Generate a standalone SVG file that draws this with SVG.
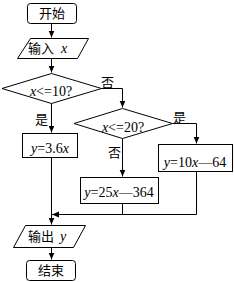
<svg xmlns="http://www.w3.org/2000/svg" width="234" height="282" viewBox="0 0 234 282">
<defs>
<style>
.s{fill:#fff;stroke:#000;stroke-width:1}
.c{fill:none;stroke:#000;stroke-width:1}
.t{font-family:"Noto Sans CJK SC","Liberation Serif",serif;font-size:13px;fill:#000}
.m{font-family:"Liberation Serif",serif;font-size:14px;fill:#000}
.i{font-style:italic}
</style>
<marker id="a" markerWidth="8" markerHeight="8" refX="7" refY="4" orient="auto" markerUnits="userSpaceOnUse">
<path d="M0,1 L7,4 L0,7 Z" fill="#000"/>
</marker>
</defs>
<rect width="234" height="282" fill="#fff"/>
<g id="connectors">
<path class="c" d="M51.5,23.5 V37.5" marker-end="url(#a)"/>
<path class="c" d="M51.5,58.5 V72.5" marker-end="url(#a)"/>
<path class="c" d="M51.5,103.5 V132.5" marker-end="url(#a)"/>
<path class="c" d="M101.5,88.5 H122.5 V107.5" marker-end="url(#a)"/>
<path class="c" d="M122.5,138.5 V176.5" marker-end="url(#a)"/>
<path class="c" d="M172.5,123.5 H196.5 V143.5" marker-end="url(#a)"/>
<path class="c" d="M51.5,157.5 V224.5" marker-end="url(#a)"/>
<path class="c" d="M122.5,203.5 V214.5"/>
<path class="c" d="M196.5,171.5 V214.5 H52" marker-end="url(#a)"/>
<path class="c" d="M51.5,247.5 V259.5" marker-end="url(#a)"/>
</g>
<g id="start">
<rect class="s" x="27.5" y="3.5" width="49" height="20" rx="3"/>
<text class="t" x="52" y="18" text-anchor="middle">开始</text>
</g>
<g id="input">
<path class="s" d="M30.5,38.5 H88.5 L77.5,58.5 H17.5 Z"/>
<text class="t" x="28" y="53">输入</text>
<text class="m i" x="61" y="53">x</text>
</g>
<g id="cond1">
<path class="s" d="M51.5,73.5 L101.5,88.5 L51.5,103.5 L2,88.5 Z"/>
<text class="m" x="51" y="96" text-anchor="middle"><tspan class="i">x</tspan>&lt;=10?</text>
<text class="t" x="101" y="87">否</text>
<text class="t" x="35" y="124">是</text>
</g>
<g id="cond2">
<path class="s" d="M122.5,108.5 L172.5,123.5 L122.5,138.5 L74,123.5 Z"/>
<text class="m" x="123" y="132" text-anchor="middle"><tspan class="i">x</tspan>&lt;=20?</text>
<text class="t" x="173" y="122">是</text>
<text class="t" x="108" y="157">否</text>
</g>
<g id="box1">
<rect class="s" x="22.5" y="133.5" width="55" height="24"/>
<text class="m" x="50" y="153" text-anchor="middle"><tspan class="i">y</tspan>=3.6<tspan class="i">x</tspan></text>
</g>
<g id="box3">
<rect class="s" x="158.5" y="144.5" width="74" height="27"/>
<text class="m" x="195" y="167" text-anchor="middle"><tspan class="i">y</tspan>=10<tspan class="i">x</tspan>—64</text>
</g>
<g id="box2">
<rect class="s" x="80.5" y="177.5" width="78" height="26"/>
<text class="m" x="119" y="197" text-anchor="middle"><tspan class="i">y</tspan>=25<tspan class="i">x</tspan>—364</text>
</g>
<g id="output">
<path class="s" d="M25.5,225.5 H85.5 L73.5,247.5 H13.5 Z"/>
<text class="t" x="28" y="241">输出</text>
<text class="m i" x="60" y="241">y</text>
</g>
<g id="end">
<rect class="s" x="26.5" y="260.5" width="49" height="20" rx="3"/>
<text class="t" x="51" y="275" text-anchor="middle">结束</text>
</g>
</svg>
